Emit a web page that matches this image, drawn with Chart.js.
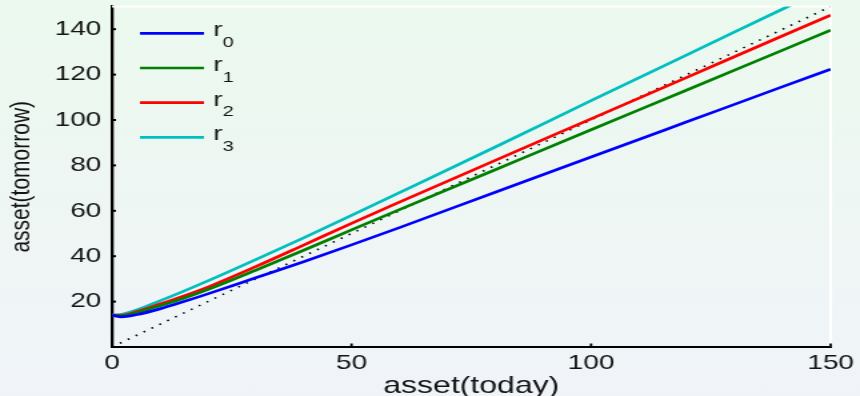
<!DOCTYPE html>
<html lang="en">
<head>
  <meta charset="UTF-8">
  <title>asset(today) vs asset(tomorrow)</title>
  <style>
    html, body {
      margin: 0;
      padding: 0;
      overflow: hidden;
    }
    body {
      width: 860px;
      height: 396px;
      background: linear-gradient(to bottom, #ebf9ee 0%, #eef6f3 50%, #f0f4f9 100%);
    }
    /* drawn at 645 wide and stretched to 860, like the original picture */
    #assetChart {
      width: 860px;
      height: 396px;
    }
  </style>
</head>
<body>
  <canvas id="assetChart" width="645" height="396" style="width:860px;height:396px"></canvas>

  <script src="https://cdn.jsdelivr.net/npm/chart.js"></script>
  <script>
    // asset today (x) and asset tomorrow for each r
    const assetToday = [0, 2, 5, 10, 15, 20, 30, 40, 50, 60, 80, 100, 120, 140, 150];
    const r0 = [14, 13.3, 14.2, 16.8, 20.0, 23.4, 30.5, 37.6, 45.0, 52.6, 68.2, 83.7, 99.2, 114.7, 122.4];
    const r1 = [14, 13.8, 15.1, 18.2, 21.5, 25.3, 33.8, 42.6, 51.6, 60.5, 78.1, 95.7, 113.2, 130.8, 139.6];
    const r2 = [14, 14.0, 15.5, 18.9, 22.5, 26.4, 35.4, 44.9, 54.5, 63.8, 82.2, 100.5, 118.8, 137.1, 146.2];
    const r3 = [14, 14.3, 16.2, 20.3, 24.6, 29.1, 38.5, 48.1, 58.0, 68.0, 88.1, 108.5, 128.7, 148.9, 159.0];
    const diagonal = [0, 150];

    const seriesLabels = ['r0', 'r1', 'r2', 'r3'];
    const seriesColors = ['#0000ff', '#008000', '#ff0000', '#00bfbf'];
    const xTickValues = [0, 50, 100, 150];
    const yTickValues = [20, 40, 60, 80, 100, 120, 140];

    const FONT = "'Liberation Sans', Arial, Helvetica, sans-serif";
    const TEXT = '#141414';

    function toPoints(ys) {
      return ys.map((v, i) => ({ x: assetToday[i], y: v }));
    }

    // white box edges, inward ticks and the subscript legend
    const axisDecor = {
      id: 'axisDecor',
      beforeDatasetsDraw(chart) {
        const { ctx, chartArea: a } = chart;
        ctx.save();
        ctx.strokeStyle = '#ffffff';
        ctx.lineWidth = 2;
        ctx.beginPath();
        ctx.moveTo(a.left, a.top);
        ctx.lineTo(a.right, a.top);
        ctx.lineTo(a.right, a.bottom);
        ctx.stroke();
        ctx.restore();
      },
      afterDatasetsDraw(chart) {
        const { ctx, chartArea: a, scales: { x, y } } = chart;
        ctx.save();
        ctx.strokeStyle = '#000';
        ctx.lineWidth = 2;
        yTickValues.forEach(v => {
          const py = y.getPixelForValue(v);
          ctx.beginPath();
          ctx.moveTo(a.left, py);
          ctx.lineTo(a.left + 3, py);
          ctx.stroke();
        });
        ctx.lineWidth = 1.8;
        xTickValues.slice(1).forEach(v => {
          const px = x.getPixelForValue(v);
          ctx.beginPath();
          ctx.moveTo(px, a.bottom);
          ctx.lineTo(px, a.bottom - 3.5);
          ctx.stroke();
        });

        // legend
        seriesLabels.forEach((lbl, i) => {
          const ly = 33.3 + i * 34.7;
          ctx.strokeStyle = seriesColors[i];
          ctx.lineWidth = 2.7;
          ctx.beginPath();
          ctx.moveTo(105, ly);
          ctx.lineTo(153, ly);
          ctx.stroke();
          ctx.fillStyle = TEXT;
          ctx.textAlign = 'left';
          ctx.textBaseline = 'alphabetic';
          ctx.font = '21px ' + FONT;
          ctx.fillText(lbl[0], 160, ly + 3);
          const w = ctx.measureText(lbl[0]).width;
          ctx.font = '15px ' + FONT;
          ctx.fillText(lbl.slice(1), 160 + w, ly + 13.5);
        });
        ctx.restore();
      }
    };

    const seriesData = [r0, r1, r2, r3];
    const datasets = seriesData.map((ys, i) => ({
      label: seriesLabels[i],
      data: toPoints(ys),
      borderColor: seriesColors[i],
      borderWidth: 2.7,
      pointRadius: 0,
      fill: false,
      cubicInterpolationMode: 'monotone'
    }));
    datasets.push({
      label: '45 degree',
      data: diagonal.map(v => ({ x: v, y: v })),
      borderColor: '#000',
      borderWidth: 1.6,
      borderDash: [1.5, 5.5],
      pointRadius: 0,
      fill: false
    });

    const ctx = document.getElementById('assetChart').getContext('2d');
    new Chart(ctx, {
      type: 'line',
      data: { datasets: datasets },
      options: {
        responsive: false,
        maintainAspectRatio: false,
        devicePixelRatio: 1,
        animation: false,
        layout: { padding: { top: 6.5, right: 22, left: 0, bottom: 0 } },
        plugins: {
          legend: { display: false },
          tooltip: { enabled: false }
        },
        scales: {
          x: {
            type: 'linear',
            min: 0,
            max: 150,
            afterBuildTicks: s => { s.ticks = xTickValues.map(v => ({ value: v })); },
            afterFit: s => { s.height = 49; s.paddingLeft = 0; s.paddingRight = 0; },
            grid: { display: false, drawTicks: false },
            border: { display: true, color: '#000', width: 2 },
            ticks: {
              padding: 4,
              color: TEXT,
              font: { family: FONT, size: 21 }
            },
            title: {
              display: true,
              text: 'asset(today)',
              color: TEXT,
              font: { family: FONT, size: 24, lineHeight: 1 },
              padding: { top: 0, bottom: -2 }
            }
          },
          y: {
            type: 'linear',
            min: 0,
            max: 150,
            afterBuildTicks: s => { s.ticks = yTickValues.map(v => ({ value: v })); },
            afterFit: s => { s.width = 84; s.paddingTop = 0; s.paddingBottom = 0; },
            grid: { display: false, drawTicks: false },
            border: { display: true, color: '#000', width: 2.3 },
            ticks: {
              padding: 8,
              color: TEXT,
              font: { family: FONT, size: 21 }
            },
            title: {
              display: true,
              text: 'asset(tomorrow)',
              color: TEXT,
              font: { family: FONT, size: 21, lineHeight: 1 },
              padding: { top: 6, bottom: 0 }
            }
          }
        }
      },
      plugins: [axisDecor]
    });
  </script>
</body>
</html>
